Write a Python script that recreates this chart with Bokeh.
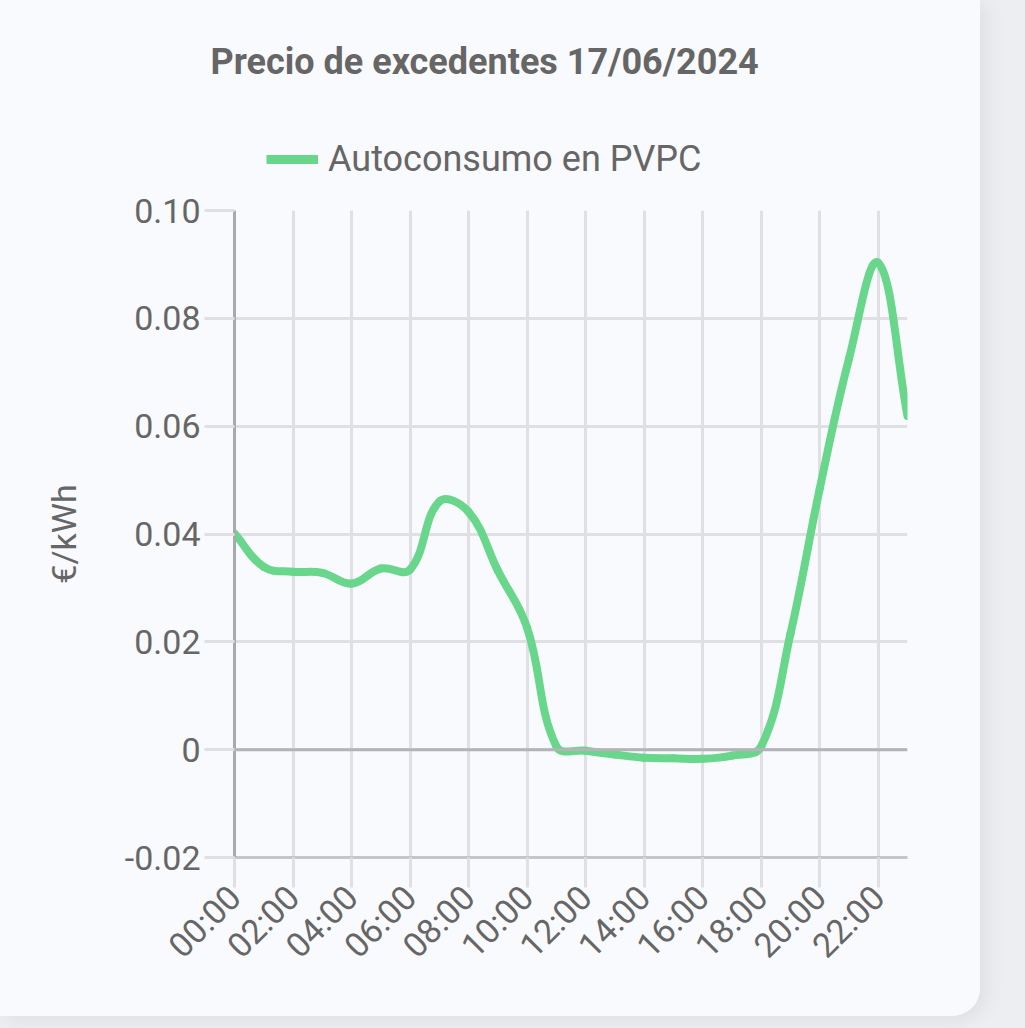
import math
import numpy as np
from bokeh.plotting import figure
from bokeh.layouts import column
from bokeh.models import (FixedTicker, Range1d, Legend, LegendItem, Span, Title)
from bokeh.embed import file_html
from bokeh.resources import INLINE

# ---------------- data ----------------
title_text = "Precio de excedentes 17/06/2024"
series_name = "Autoconsumo en PVPC"
y_label = "€/kWh"
hours = list(range(24))
hour_tick_values = list(range(0, 24, 2))
hour_tick_labels = ["00:00", "02:00", "04:00", "06:00", "08:00", "10:00",
                    "12:00", "14:00", "16:00", "18:00", "20:00", "22:00"]
prices = [0.0401, 0.0339, 0.0330, 0.0328, 0.0308, 0.0336, 0.0334, 0.0460,
          0.0441, 0.0332, 0.0226, 0.0006, -0.0002, -0.0009, -0.0015, -0.0016,
          -0.0017, -0.0011, 0.0006, 0.0215, 0.0484, 0.0725, 0.0903, 0.0619]
y_tick_values = [-0.02, 0.0, 0.02, 0.04, 0.06, 0.08, 0.10]
y_tick_labels = ["-0.02", "0", "0.02", "0.04", "0.06", "0.08", "0.10"]

# ---------------- layout ----------------
W, H = 1025, 1028
CW, CH = 980, 1016          # card size
HEAD = 180                  # header (title + legend) height
HEAD_TOP = 120              # title band inside the header
L, R, T, B = 234, 907, 210, 857   # plot frame in page pixels
TEXT = "#666666"
GRID = "#e0e0e4"
GREEN = "#68d68b"
CARD = "#f9fafd"
OUTER = "#eceef1"
FONT = "Roboto"

# ---------- header: title + legend ----------
hf = figure(width=CW, height=HEAD, x_range=Range1d(0, 23), y_range=Range1d(-0.02, 0.10),
            output_backend="svg", toolbar_location=None,
            min_border_left=L, min_border_right=CW - R, min_border_top=HEAD_TOP,
            min_border_bottom=0)
hf.border_fill_color = CARD
hf.background_fill_color = CARD
hf.outline_line_color = None
hf.axis.visible = False
hf.grid.visible = False
hf.title = Title(text=title_text, align="left", offset=-24, text_font=FONT,
                 text_font_size="36px", text_font_style="bold", text_color=TEXT,
                 standoff=76)
legend_line = hf.line(x=hours, y=prices, line_color=GREEN, line_width=9, visible=False)
legend = Legend(items=[LegendItem(label=series_name, renderers=[legend_line])],
                location=(266 - L, 0), orientation="horizontal",
                label_text_font=FONT, label_text_font_size="36px",
                label_text_color=TEXT, glyph_width=52, glyph_height=36,
                label_height=36, label_standoff=10, padding=0, margin=0,
                spacing=0, border_line_color=None, background_fill_alpha=0,
                inactive_fill_alpha=0)
hf.add_layout(legend)

# ---------- main chart ----------
p = figure(width=CW, height=CH - HEAD, x_range=Range1d(0, 23),
           y_range=Range1d(-0.02, 0.10), output_backend="svg", toolbar_location=None,
           min_border_left=L, min_border_right=CW - R, min_border_top=T - HEAD,
           min_border_bottom=CH - B)
p.border_fill_color = CARD
p.background_fill_color = CARD
p.outline_line_color = None

p.xgrid.ticker = FixedTicker(ticks=hour_tick_values)
p.ygrid.ticker = FixedTicker(ticks=y_tick_values)
for g in (p.xgrid, p.ygrid):
    g.grid_line_color = GRID
    g.grid_line_width = 3

ya = p.yaxis[0]
ya.ticker = FixedTicker(ticks=y_tick_values)
ya.major_label_overrides = {v: s for v, s in zip(y_tick_values, y_tick_labels)}
ya.axis_label = y_label
xa = p.xaxis[0]
xa.ticker = FixedTicker(ticks=hour_tick_values)
xa.major_label_overrides = {v: s for v, s in zip(hour_tick_values, hour_tick_labels)}
xa.major_label_orientation = math.pi / 4
for a in (xa, ya):
    a.major_label_text_font = FONT
    a.major_label_text_font_size = "34px"
    a.major_label_text_color = TEXT
    a.major_tick_in = 0
    a.major_tick_out = 30
    a.major_tick_line_color = GRID
    a.major_tick_line_width = 3
    a.minor_tick_line_color = None
    a.axis_label_text_font = FONT
    a.axis_label_text_font_size = "34px"
    a.axis_label_text_font_style = "normal"
    a.axis_label_text_color = TEXT
ya.axis_line_color = "#a9a9ad"
ya.axis_line_width = 3
ya.major_label_standoff = 4
ya.axis_label_standoff = 38
xa.axis_line_color = "#c6c6ca"
xa.axis_line_width = 3
xa.major_label_standoff = 4

p.add_layout(Span(location=0, dimension="width", line_color="#b4b4b8", line_width=3))

# smooth line (Chart.js style spline, tension 0.4, control points in pixel space)
px = (R - L) / (hours[-1] - hours[0])
py = (B - T) / (0.10 - (-0.02))
X = np.array(hours, dtype=float) * px
Y = np.array(prices, dtype=float) * py
n = len(X)
t = 0.4
pcx = np.zeros(n); pcy = np.zeros(n); ncx = np.zeros(n); ncy = np.zeros(n)
for i in range(n):
    a = max(i - 1, 0)
    c = min(i + 1, n - 1)
    d01 = math.hypot(X[i] - X[a], Y[i] - Y[a])
    d12 = math.hypot(X[c] - X[i], Y[c] - Y[i])
    s01 = d01 / (d01 + d12) if d01 + d12 else 0
    s12 = d12 / (d01 + d12) if d01 + d12 else 0
    fa, fb = t * s01, t * s12
    pcx[i] = X[i] - fa * (X[c] - X[a]); pcy[i] = Y[i] - fa * (Y[c] - Y[a])
    ncx[i] = X[i] + fb * (X[c] - X[a]); ncy[i] = Y[i] + fb * (Y[c] - Y[a])

p.bezier(x0=np.array(hours[:-1], float), y0=np.array(prices[:-1]),
         x1=np.array(hours[1:], float), y1=np.array(prices[1:]),
         cx0=ncx[:-1] / px, cy0=ncy[:-1] / py,
         cx1=pcx[1:] / px, cy1=pcy[1:] / py,
         line_color=GREEN, line_width=8, line_cap="round")

card = column(hf, p, width=CW, height=CH, spacing=0,
              styles={"border-radius": "0 0 28px 0", "overflow": "hidden",
                      "box-shadow": "6px 4px 18px rgba(90,100,115,0.10)",
                      "background-color": CARD})
page = column(card, width=W, height=H, styles={"background-color": OUTER})

open("out.html", "w").write(file_html(page, INLINE))
